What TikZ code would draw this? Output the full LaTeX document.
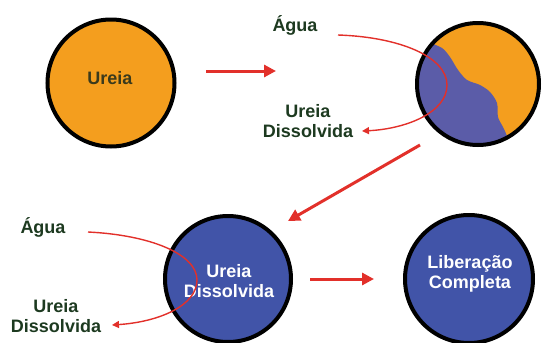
\documentclass[tikz,border=0pt]{standalone}
\usepackage{fontspec}
\setmainfont{Liberation Sans}
\usetikzlibrary{arrows.meta}
\definecolor{ureia}{HTML}{F49E1E}
\definecolor{agua}{HTML}{5B5CA8}
\definecolor{solucao}{HTML}{4154A8}
\definecolor{seta}{HTML}{E2302A}
\definecolor{verde}{HTML}{1D3A20}
\definecolor{oliva}{HTML}{3A3A1C}

\begin{document}
\begin{tikzpicture}[x=1pt,y=-1pt,
  disc/.style={circle,draw=black,line width=4pt,inner sep=0pt},
  txt/.style={font=\fontsize{18}{20.5}\selectfont\bfseries,align=center},
  bigarrow/.style={draw=seta,line width=3pt,-{Triangle[length=12pt,width=12pt]}},
  thinarrow/.style={draw=seta,line width=1.4pt,-{Triangle[length=7pt,width=7pt]}}]
\useasboundingbox (0,0) rectangle (544,343);

% the four stages
\node [disc,fill=ureia,minimum size=127pt] (c1) at (111,83) {};
\node [disc,draw=none,fill=ureia,minimum size=122pt] (c2) at (478,84) {};
\begin{scope}
  \clip (c2.center) circle[radius=61];
  \fill [agua] (400,40) -- plot[smooth] coordinates {(428,42) (442,48) (450,57) (458,70)
    (467,80) (480,85) (490,92) (497,103) (498,117) (503,127) (507,136) (512,152)}
    -- (400,152) -- cycle;
\end{scope}
\draw [line width=4pt] (c2.center) circle[radius=61];
\node [disc,fill=solucao,minimum size=126pt] (c3) at (228,279) {};
\node [disc,fill=solucao,minimum size=128pt] (c4) at (469,279) {};

\node [txt,text=oliva] (t1) at (110,78) {Ureia};
\node [txt,text=white] (t3) at (229,281) {Ureia\\Dissolvida};
\node [txt,text=white] (t4) at (470,274) {Libera\c{c}\~ao\\Completa};

% labels
\node [txt,text=verde] (agua1) at (295,25) {\'Agua};
\node [txt,text=verde] (dis1) at (308,121) {Ureia\\Dissolvida};
\node [txt,text=verde] (agua2) at (43,227) {\'Agua};
\node [txt,text=verde] (dis2) at (56,316) {Ureia\\Dissolvida};

% arrows between stages
\coordinate (p1) at (206,71);
\coordinate (q1) at (276,71);
\coordinate (p2) at (420,145);
\coordinate (q2) at (288,221);
\coordinate (p3) at (310,279);
\coordinate (q3) at (374,279);
\draw [bigarrow] (p1) -- (q1);
\draw [bigarrow] (p2) -- (q2);
\draw [bigarrow] (p3) -- (q3);

% water in, dissolved ureia out
\coordinate (s1) at (338,35);
\coordinate (e1) at (362,131);
\draw [thinarrow] (s1) .. controls (400,37) and (447,57) .. (447,85)
  .. controls (447,113) and (405,129) .. (e1);
\coordinate (s2) at (88,232);
\coordinate (e2) at (112,325);
\draw [thinarrow] (s2) .. controls (150,235) and (197,254) .. (197,280)
  .. controls (197,306) and (158,322) .. (e2);
\end{tikzpicture}
\end{document}
